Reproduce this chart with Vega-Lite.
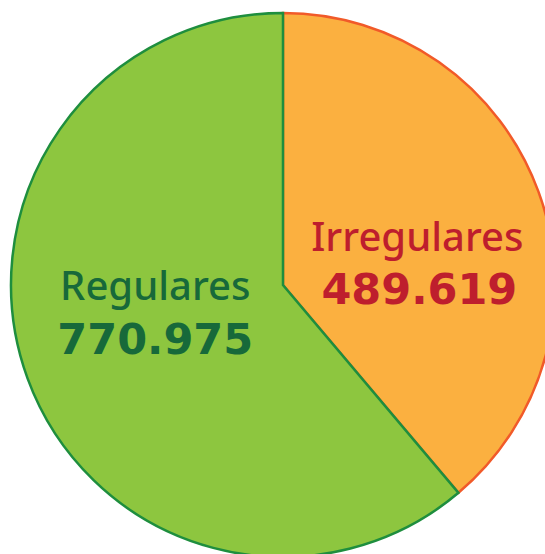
{
  "$schema": "https://vega.github.io/schema/vega-lite/v6.json",
  "width": 545,
  "height": 554,
  "autosize": {"type": "fit", "contains": "padding"},
  "padding": {"left": 21, "top": 16, "right": 0, "bottom": 0},
  "background": "white",
  "view": {"stroke": null},
  "data": {"values": [
    {"cat": "Irregulares", "value": 489619, "label": "489.619"},
    {"cat": "Regulares", "value": 770975, "label": "770.975"}
  ]},
  "encoding": {
    "theta": {"field": "value", "type": "quantitative", "stack": true},
    "order": {"field": "cat", "sort": "ascending"}
  },
  "layer": [
    {
      "mark": {"type": "arc", "outerRadius": 272, "strokeWidth": 2.5},
      "encoding": {
        "color": {"field": "cat", "type": "nominal", "legend": null,
          "scale": {"domain": ["Irregulares", "Regulares"], "range": ["#FBB040", "#8DC63F"]}},
        "stroke": {"field": "cat", "type": "nominal", "legend": null,
          "scale": {"domain": ["Irregulares", "Regulares"], "range": ["#F15A29", "#1E8E3E"]}}
      }
    },
    {
      "mark": {"type": "text", "radius": 143, "dy": 3, "font": "Noto Sans", "fontWeight": 500, "fontSize": 40, "fill": "#BE1E2D", "align": "center", "baseline": "middle"},
      "encoding": {"text": {"condition": {"test": "datum.cat === 'Irregulares'", "field": "cat"}, "value": ""}}
    },
    {
      "mark": {"type": "text", "radius": 143, "dx": 2, "dy": 55, "font": "DejaVu Sans", "fontWeight": "bold", "fontSize": 43, "fill": "#BE1E2D", "align": "center", "baseline": "middle"},
      "encoding": {"text": {"condition": {"test": "datum.cat === 'Irregulares'", "field": "label"}, "value": ""}}
    },
    {
      "mark": {"type": "text", "radius": 136, "dy": -44, "font": "Noto Sans", "fontWeight": 500, "fontSize": 40, "fill": "#17693A", "align": "center", "baseline": "middle"},
      "encoding": {"text": {"condition": {"test": "datum.cat === 'Regulares'", "field": "cat"}, "value": ""}}
    },
    {
      "mark": {"type": "text", "radius": 136, "dy": 9, "font": "DejaVu Sans", "fontWeight": "bold", "fontSize": 43, "fill": "#17693A", "align": "center", "baseline": "middle"},
      "encoding": {"text": {"condition": {"test": "datum.cat === 'Regulares'", "field": "label"}, "value": ""}}
    }
  ]
}
